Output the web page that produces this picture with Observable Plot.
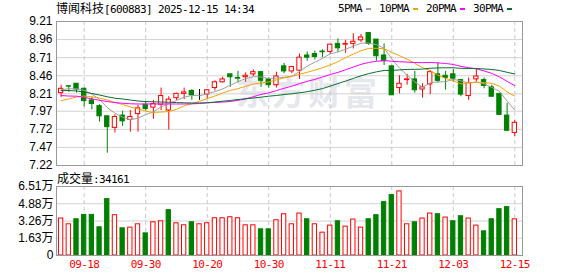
<!DOCTYPE html>
<html><head><meta charset="utf-8">
<script src="https://cdn.jsdelivr.net/npm/d3@7"></script>
<script src="https://cdn.jsdelivr.net/npm/@observablehq/plot@0.6"></script>
<style>
body{margin:0;background:#fff}
#wrap{position:relative;width:578px;height:276px;overflow:hidden;background:#fff}
.abs{position:absolute;white-space:pre}
.mono{font-family:"DejaVu Sans Mono",monospace;font-size:11px;letter-spacing:-0.62px}
.cjk{font-family:"Noto Sans CJK SC",sans-serif;font-size:12px}
#wm{left:236px;top:75px;font-family:"Noto Sans CJK SC",sans-serif;font-weight:700;font-size:33px;line-height:33px;letter-spacing:3px;color:#e6e7ec}
</style></head><body>
<div id="wrap">
  <div id="wm" class="abs">东方财富</div>
  <div id="price" class="abs" style="left:0;top:0"></div>
  <div id="vol" class="abs" style="left:0;top:176px"></div>
  <div id="title" class="abs" style="left:56px;top:0;line-height:16px;color:#000"></div>
  <div id="legend" class="abs" style="left:338px;top:0;line-height:18px;display:flex;align-items:center;color:#000"></div>
  <div id="volLabel" class="abs" style="left:57px;top:170px;line-height:16px;color:#000"></div>
</div>
<script>
// ---------- data ----------
const stockName = "博闻科技";
const stockCode = "[600883]";
const stamp = "2025-12-15 14:34";
const volTitle = "成交量";

const dates = [
  "09-15","09-16","09-17","09-18","09-19","09-22","09-23","09-24","09-25","09-26","09-29","09-30",
  "10-09","10-10","10-13","10-14","10-15","10-16","10-17","10-20","10-21","10-22","10-23","10-24","10-27","10-28","10-29","10-30","10-31",
  "11-03","11-04","11-05","11-06","11-07","11-10","11-11","11-12","11-13","11-14","11-17","11-18","11-19","11-20","11-21","11-24","11-25","11-26","11-27","11-28",
  "12-01","12-02","12-03","12-04","12-05","12-08","12-09","12-10","12-11","12-12","12-15"
];
const tickDates = ["09-18","09-30","10-20","10-30","11-11","11-21","12-03","12-15"];

const opens  = [8.22,8.315,8.35,8.28,8.12,8.04,7.90,7.74,7.91,7.85,7.93,8.06,8.02,8.06,7.98,8.15,8.21,8.25,8.16,8.20,
                8.29,8.37,8.48,8.43,8.44,8.48,8.51,8.41,8.33,8.59,8.52,8.53,8.74,8.76,8.795,8.79,8.90,8.89,8.90,8.95,
                9.05,8.96,8.74,8.59,8.29,8.40,8.41,8.27,8.34,8.48,8.46,8.48,8.40,8.18,8.41,8.40,8.30,8.21,7.91,7.67];
const highs  = [8.33,8.32,8.35,8.29,8.16,8.06,7.90,7.92,7.97,7.98,8.05,8.10,8.12,8.29,8.17,8.22,8.29,8.27,8.27,8.27,
                8.39,8.44,8.48,8.52,8.50,8.54,8.52,8.43,8.51,8.63,8.59,8.76,8.79,8.80,8.82,8.89,8.97,8.95,9.04,9.03,
                9.05,8.96,8.90,8.60,8.46,8.48,8.52,8.35,8.53,8.64,8.52,8.55,8.41,8.43,8.55,8.43,8.33,8.21,8.08,7.84];
const lows   = [8.16,8.23,8.22,8.03,7.99,7.82,7.39,7.67,7.76,7.68,7.68,7.97,7.86,7.98,7.71,8.12,8.13,8.12,8.12,8.14,
                8.25,8.36,8.30,8.36,8.37,8.45,8.30,8.29,8.29,8.49,8.49,8.41,8.66,8.68,8.71,8.75,8.78,8.77,8.83,8.92,
                8.88,8.66,8.60,8.19,8.21,8.33,8.22,8.15,8.20,8.36,8.26,8.37,8.17,8.12,8.37,8.28,8.17,7.92,7.69,7.62];
const closes = [8.28,8.31,8.27,8.11,8.07,7.90,7.75,7.89,7.83,7.89,8.01,8.00,8.07,8.18,8.13,8.21,8.23,8.19,8.16,8.26,
                8.37,8.41,8.44,8.42,8.46,8.51,8.39,8.33,8.45,8.52,8.58,8.71,8.71,8.72,8.785,8.89,8.84,8.90,8.93,8.99,
                8.90,8.73,8.66,8.19,8.35,8.41,8.26,8.30,8.51,8.39,8.43,8.42,8.20,8.36,8.45,8.32,8.17,7.92,7.70,7.81];

const ma5  = [8.27,8.28,8.28,8.26,8.208,8.132,8.02,7.944,7.888,7.852,7.874,7.924,7.96,8.03,8.078,8.118,8.164,8.188,8.184,8.21,
              8.242,8.278,8.328,8.38,8.42,8.448,8.444,8.422,8.428,8.44,8.454,8.518,8.594,8.648,8.701,8.763,8.789,8.827,8.869,8.91,
              8.912,8.89,8.842,8.694,8.566,8.468,8.374,8.302,8.366,8.374,8.378,8.41,8.39,8.36,8.372,8.35,8.30,8.244,8.112,7.984];
const ma10 = [8.118,8.139,8.167,8.18,8.17,8.15,8.125,8.09,8.063,8.030,8.003,7.972,7.952,7.959,7.965,7.996,8.044,8.074,8.107,8.144,
              8.180,8.221,8.258,8.282,8.315,8.345,8.361,8.375,8.404,8.430,8.451,8.481,8.508,8.538,8.571,8.609,8.654,8.711,8.759,8.806,
              8.838,8.840,8.835,8.782,8.738,8.690,8.632,8.572,8.530,8.470,8.423,8.392,8.346,8.363,8.373,8.364,8.355,8.317,8.236,8.178];
const ma20 = [8.187,8.18,8.178,8.16,8.142,8.12,8.104,8.09,8.08,8.073,8.07,8.07,8.07,8.07,8.07,8.07,8.07,8.072,8.077,8.087,
              8.0915,8.0965,8.105,8.1205,8.14,8.1705,8.2025,8.2245,8.2555,8.287,8.3155,8.351,8.383,8.41,8.443,8.477,8.507,8.543,8.581,8.618,
              8.644,8.660,8.671,8.660,8.654,8.649,8.643,8.641,8.644,8.638,8.630,8.616,8.590,8.572,8.556,8.527,8.4935,8.4445,8.383,8.324];
const ma30 = [8.256,8.256,8.25,8.236,8.215,8.194,8.17,8.15,8.139,8.125,8.111,8.104,8.10,8.097,8.094,8.09,8.086,8.084,8.084,8.086,
              8.097,8.108,8.118,8.132,8.142,8.153,8.164,8.178,8.187,8.201,8.211,8.225,8.239,8.260,8.2835,8.3165,8.353,8.3865,8.423,8.460,
              8.4895,8.514,8.5335,8.534,8.541,8.548,8.549,8.5525,8.564,8.5685,8.5705,8.571,8.563,8.561,8.5605,8.554,8.547,8.533,8.508,8.4845];

const volumes = [34900,29450,34200,38300,38300,26600,53200,38000,25650,26300,29450,20900,31350,32300,42750,30400,28500,31350,29450,30400,
                 35150,35150,36100,35150,28500,28500,24700,24700,33250,38950,29450,39600,34200,29450,21550,28200,32300,27250,33900,26300,
                 34200,38000,50350,57000,60500,29450,31350,34900,39600,38950,35800,32300,37050,34900,28200,22800,34200,43700,45600,34161];
// volume bar direction as drawn: 1 = red (up), 0 = green (down)
const volUp = [1,1,0,0,0,0,0,1,0,1,1,0,1,1,0,1,1,0,1,1,
               1,1,1,1,1,1,0,0,1,1,1,1,0,1,1,1,0,1,1,1,
               0,0,0,0,1,1,0,1,1,0,1,0,0,1,1,0,0,0,0,1];

const priceTicks = [7.22,7.47,7.72,7.97,8.21,8.46,8.71,8.96,9.21];
const volTicks = [0,16275,32550,48825,65100];
const volTickLabels = ["0","1.63万","3.26万","4.88万","6.51万"];

const maNames = ["5PMA","10PMA","20PMA","30PMA"];
const maColors = ["#a0a0a0","#f5a300","#ff00ff","#0a6e32"];
const maSeries = [ma5, ma10, ma20, ma30];

// ---------- derived tables ----------
const RED = "#ff0000", GREEN = "#008000", BLACK = "#000000";
const candles = dates.map((d, i) => ({i, date: d, open: opens[i], high: highs[i], low: lows[i], close: closes[i]}));
const cColor = d => d.close > d.open ? RED : d.close < d.open ? GREEN : BLACK;
const vols = dates.map((d, i) => ({i, date: d, vol: volumes[i], up: volUp[i]}));
const tickIdx = tickDates.map(t => dates.indexOf(t));
const maRows = maSeries.flatMap((s, k) => s.map((v, i) => ({i, v, name: maNames[k], color: maColors[k]})));

const HW = 0.28;
const xDomain = [-0.6, 60];
const baseStyle = {background: "transparent", color: "#000", fontFamily: "'Liberation Sans', Arial, 'Noto Sans CJK SC', sans-serif", fontSize: "12px", overflow: "visible"};

const price = Plot.plot({
  width: 578, height: 176, marginTop: 21, marginBottom: 11, marginLeft: 56, marginRight: 56,
  style: baseStyle,
  color: {type: "identity"},
  x: {domain: xDomain, axis: null},
  y: {domain: [7.22, 9.21], axis: null},
  marks: [
    Plot.ruleY(priceTicks, {stroke: "#d2d2d2"}),
    Plot.ruleX(tickIdx, {stroke: "#c8c8c8", strokeDasharray: "4,3"}),
    Plot.axisY(priceTicks, {tickSize: 0, tickPadding: 4, tickFormat: d => d.toFixed(2), fontSize: 12, label: null}),
    Plot.ruleX(candles, {x: "i", y1: "low", y2: "high", stroke: cColor}),
    Plot.rect(candles, {x1: d => d.i - HW, x2: d => d.i + HW, y1: "open", y2: "close",
      fill: d => d.close > d.open ? "#ffffff" : cColor(d), stroke: cColor}),
    Plot.line(maRows, {x: "i", y: "v", z: "name", stroke: "color", strokeWidth: 1}),
    Plot.frame({stroke: "#999999"})
  ]
});
document.getElementById("price").appendChild(price);

const vol = Plot.plot({
  width: 578, height: 100, marginTop: 10, marginBottom: 21, marginLeft: 56, marginRight: 56,
  style: baseStyle,
  color: {type: "identity"},
  x: {domain: xDomain, axis: null},
  y: {domain: [0, 65100], axis: null},
  marks: [
    Plot.ruleY(volTicks, {stroke: "#d2d2d2"}),
    Plot.ruleX(tickIdx, {stroke: "#c8c8c8", strokeDasharray: "4,3"}),
    Plot.axisY(volTicks, {tickSize: 0, tickPadding: 3, tickFormat: d => volTickLabels[volTicks.indexOf(d)], fontSize: 12, label: null}),
    Plot.axisX(tickIdx, {tickSize: 0, tickPadding: 5, tickFormat: i => dates[i], fill: RED, label: null,
      fontFamily: "'DejaVu Sans Mono', monospace", fontSize: 11}),
    Plot.rect(vols, {x1: d => d.i - HW, x2: d => d.i + HW, y1: 0, y2: "vol",
      fill: d => d.up ? "#ffffff" : GREEN, stroke: d => d.up ? RED : GREEN}),
    Plot.frame({stroke: "#999999"})
  ]
});
document.getElementById("vol").appendChild(vol);
d3.select(vol).selectAll('g[aria-label="x-axis tick label"] text').style("letter-spacing", "-0.62px");

// ---------- html texts ----------
document.getElementById("title").innerHTML =
  `<span class="cjk">${stockName}</span><span class="mono">${stockCode} ${stamp}</span>`;
document.getElementById("volLabel").innerHTML =
  `<span class="cjk">${volTitle}</span><span class="mono">:${volumes[volumes.length - 1]}</span>`;
const leg = document.getElementById("legend");
maNames.forEach((n, k) => {
  const t = document.createElement("span");
  t.className = "mono"; t.textContent = n;
  const s = document.createElement("span");
  s.style.cssText = `display:inline-block;width:5px;height:2px;background:${maColors[k]};margin-left:4px;margin-right:8px`;
  leg.appendChild(t); leg.appendChild(s);
});
</script>
</body></html>
